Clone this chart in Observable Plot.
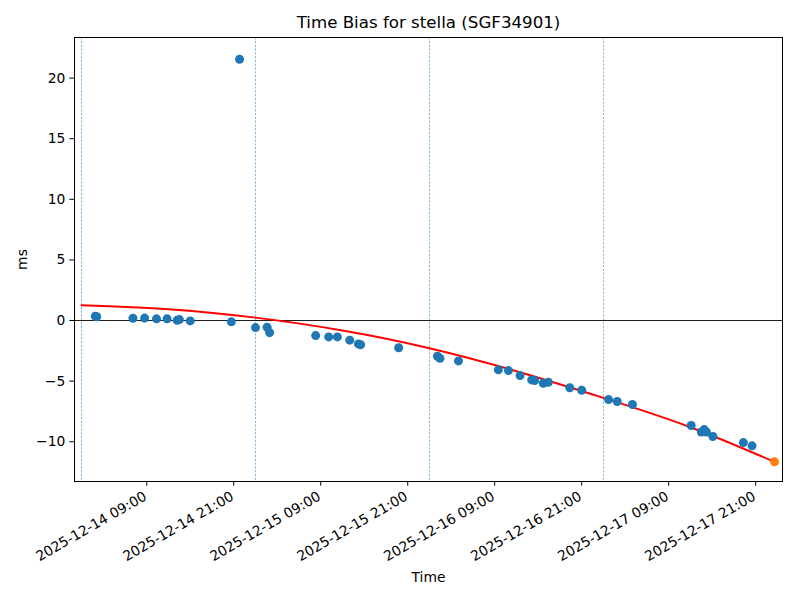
<!DOCTYPE html>
<html>
<head>
<meta charset="utf-8">
<script src="https://cdn.jsdelivr.net/npm/d3@7"></script>
<script src="https://cdn.jsdelivr.net/npm/@observablehq/plot@0.6"></script>
<style>
  html, body { margin: 0; padding: 0; background: #fff; }
  svg { display: block; }
</style>
</head>
<body>
<div id="chart"></div>
<script>
// ---- data ----
const title = "Time Bias for stella (SGF34901)";
const pointTimes = [
  "2025-12-14 01:54", "2025-12-14 02:06", "2025-12-14 07:06", "2025-12-14 08:42",
  "2025-12-14 10:21", "2025-12-14 11:48", "2025-12-14 13:12", "2025-12-14 13:30",
  "2025-12-14 15:00", "2025-12-14 20:40", "2025-12-14 21:48",
  "2025-12-15 00:00", "2025-12-15 01:36", "2025-12-15 01:57", "2025-12-15 08:18",
  "2025-12-15 10:06", "2025-12-15 11:18", "2025-12-15 13:00", "2025-12-15 14:12",
  "2025-12-15 14:30", "2025-12-15 19:45",
  "2025-12-16 01:06", "2025-12-16 01:27", "2025-12-16 04:00", "2025-12-16 09:30",
  "2025-12-16 10:54", "2025-12-16 12:30", "2025-12-16 14:06", "2025-12-16 14:30",
  "2025-12-16 15:42", "2025-12-16 16:24", "2025-12-16 19:21", "2025-12-16 21:00",
  "2025-12-17 00:42", "2025-12-17 01:54", "2025-12-17 04:00", "2025-12-17 12:06",
  "2025-12-17 13:30", "2025-12-17 13:54", "2025-12-17 14:12", "2025-12-17 15:06",
  "2025-12-17 19:18", "2025-12-17 20:30"
];
const pointBiasMs = [
  0.36, 0.31, 0.19, 0.20,
  0.14, 0.14, 0.02, 0.08,
  -0.03, -0.11, 21.56,
  -0.58, -0.55, -1.00, -1.24,
  -1.35, -1.35, -1.62, -1.93,
  -2.00, -2.25,
  -2.95, -3.12, -3.33, -4.07,
  -4.13, -4.54, -4.90, -4.95,
  -5.17, -5.09, -5.55, -5.75,
  -6.52, -6.68, -6.93, -8.66,
  -9.20, -9.00, -9.20, -9.57,
  -10.07, -10.34
];
const predTime = ["2025-12-17 23:36"];
const predBiasMs = [-11.66];

const fitTimes = [
  "2025-12-14 00:00", "2025-12-14 12:00", "2025-12-15 00:00", "2025-12-15 12:00",
  "2025-12-16 00:00", "2025-12-16 12:00", "2025-12-17 00:00", "2025-12-17 12:00",
  "2025-12-17 23:36"
];
const fitBiasMs = [1.26, 0.94, 0.24, -0.82, -2.28, -4.18, -6.38, -8.80, -11.66];

const dayBoundaries = ["2025-12-14 00:00", "2025-12-15 00:00", "2025-12-16 00:00", "2025-12-17 00:00"];
const xTickLabels = [
  "2025-12-14 09:00", "2025-12-14 21:00", "2025-12-15 09:00", "2025-12-15 21:00",
  "2025-12-16 09:00", "2025-12-16 21:00", "2025-12-17 09:00", "2025-12-17 21:00"
];
const yTicks = [-10, -5, 0, 5, 10, 15, 20];
const xDomainLabels = ["2025-12-13 23:02", "2025-12-18 00:42"];
const yDomain = [-13.28, 23.35];

// ---- build ----
const parse = d3.utcParse("%Y-%m-%d %H:%M");
const points = pointTimes.map((t, i) => ({t: parse(t), v: pointBiasMs[i]}));
const pred = predTime.map((t, i) => ({t: parse(t), v: predBiasMs[i]}));
const fit = fitTimes.map((t, i) => ({t: parse(t), v: fitBiasMs[i]}));
const days = dayBoundaries.map(parse);
const xTicks = xTickLabels.map(parse);

const FONT = "DejaVu Sans";
const FS = 13.89;
const chart = Plot.plot({
  width: 800,
  height: 600,
  marginLeft: 74,
  marginRight: 18,
  marginTop: 37,
  marginBottom: 119,
  style: {fontFamily: FONT, fontSize: FS + "px", color: "black", background: "white"},
  x: {type: "utc", domain: xDomainLabels.map(parse)},
  y: {domain: yDomain},
  marks: [
    Plot.ruleX(days, {stroke: "#3a87c0", strokeOpacity: 0.9, strokeWidth: 0.7, strokeDasharray: "2.2,1.6"}),
    Plot.ruleY([0], {stroke: "black", strokeWidth: 0.9}),
    Plot.line(fit, {x: "t", y: "v", stroke: "red", strokeWidth: 2, curve: "natural"}),
    Plot.dot(points, {x: "t", y: "v", r: 4.5, fill: "#1f77b4", stroke: "none"}),
    Plot.dot(pred, {x: "t", y: "v", r: 4.5, fill: "#ff7f0e", stroke: "none"}),
    Plot.frame({stroke: "black", strokeWidth: 1}),
    Plot.axisY(yTicks, {tickSize: 4.7, tickPadding: 4.5, fontSize: FS, label: null}),
    Plot.axisX(xTicks, {tickSize: 4.7, tickFormat: () => "", label: null}),
    Plot.text(xTicks, {x: d => d, frameAnchor: "bottom", text: (d, i) => xTickLabels[i],
      rotate: -30, textAnchor: "end", lineAnchor: "top", dx: -4, dy: 9, fontSize: FS, fill: "black"}),
    Plot.text(["ms"], {frameAnchor: "left", dx: -52, rotate: -90, textAnchor: "middle", lineAnchor: "middle", fontSize: FS, fill: "black"}),
    Plot.text(["Time"], {frameAnchor: "bottom", dy: 96, textAnchor: "middle", lineAnchor: "middle", fontSize: FS, fill: "black"}),
    Plot.text([title], {frameAnchor: "top", dy: -15, lineAnchor: "middle", fontSize: 16.67, fill: "black"})
  ]
});
document.getElementById("chart").appendChild(chart);
</script>
</body>
</html>
